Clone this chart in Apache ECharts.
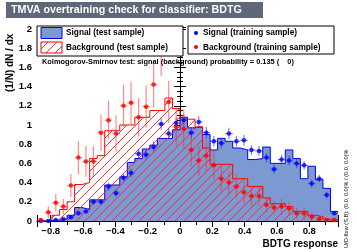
<!DOCTYPE html>
<html><head><meta charset="utf-8">
<script src="https://cdn.jsdelivr.net/npm/echarts@6/dist/echarts.min.js"></script>
<style>html,body{margin:0;padding:0;background:#fff}#c{width:357px;height:252px}</style>
</head><body><div id="c"></div>
<script>
const xRange = [-0.885, 0.978];
const nBins = 40;
const sigTest = [0.0,0.005,0.01,0.02,0.06,0.14,0.12,0.22,0.22,0.375,0.375,0.46,0.61,0.65,0.75,0.79,0.86,0.86,0.95,1.08,0.97,0.98,0.90,0.74,0.86,0.83,0.76,0.74,0.64,0.65,0.77,0.60,0.60,0.74,0.65,0.44,0.57,0.43,0.34,0.10];
const bkgTest = [0.0,0.02,0.06,0.12,0.20,0.38,0.40,0.65,0.68,0.94,0.94,1.0,1.0,1.08,1.08,1.15,1.15,1.28,1.17,1.06,1.06,0.98,0.76,0.59,0.59,0.59,0.44,0.44,0.36,0.36,0.24,0.18,0.18,0.15,0.10,0.10,0.06,0.045,0.02,0.01];
const sigTrain = [0.0,0.0,0.01,0.02,0.04,0.08,0.10,0.20,0.20,0.36,0.29,0.45,0.50,0.70,0.69,0.77,1.01,0.91,1.02,1.05,0.92,1.03,0.92,0.83,0.81,0.91,0.83,0.84,0.74,0.73,0.66,0.54,0.64,0.63,0.60,0.58,0.39,0.44,0.27,0.08];
const sigTrainErr = [0.0,0.0,0.01,0.01,0.015,0.02,0.02,0.03,0.03,0.04,0.035,0.04,0.045,0.05,0.05,0.055,0.06,0.06,0.06,0.06,0.06,0.06,0.06,0.055,0.055,0.06,0.055,0.055,0.05,0.05,0.05,0.045,0.05,0.05,0.05,0.045,0.04,0.04,0.035,0.02];
const bkgTrain = [0.01,0.09,0.19,0.15,0.37,0.66,0.62,0.62,0.92,1.05,0.91,1.20,1.23,1.08,1.19,1.42,1.78,1.24,0.98,0.96,0.74,0.63,0.68,0.58,0.44,0.40,0.36,0.30,0.26,0.26,0.17,0.14,0.15,0.13,0.08,0.08,0.045,0.02,0.01,0.01];
const bkgTrainErr = [0.02,0.06,0.09,0.08,0.12,0.17,0.16,0.16,0.19,0.2,0.19,0.22,0.22,0.2,0.22,0.24,0.27,0.22,0.2,0.2,0.17,0.16,0.16,0.15,0.13,0.12,0.12,0.11,0.1,0.1,0.08,0.07,0.08,0.07,0.06,0.06,0.04,0.03,0.02,0.02];

const bw = (xRange[1]-xRange[0])/nBins;
const edges = Array.from({length:nBins+1},(_,i)=>xRange[0]+i*bw);
const centers = edges.slice(0,nBins).map(e=>e+bw/2);
function stepData(vals){ const d = vals.map((v,i)=>[edges[i],v]); d.push([edges[nBins], vals[nBins-1]]); return d; }
function ptData(vals, errs){ return vals.map((v,i)=>[centers[i],v,errs[i]]); }

const hc = document.createElement('canvas'); hc.width=9; hc.height=9;
const g = hc.getContext('2d'); g.strokeStyle='#ff2020'; g.lineWidth=0.9;
g.beginPath(); g.moveTo(0,9); g.lineTo(9,0); g.moveTo(-1,1); g.lineTo(1,-1); g.moveTo(8,10); g.lineTo(10,8); g.stroke();
const hatch = {image: hc, repeat: 'repeat'};

function errSeries(vals, errs, color){
  return {type:'custom', z:5, clip:true, data: ptData(vals, errs),
    renderItem:(p, api)=>{
      const x=api.value(0), y=api.value(1), e=api.value(2);
      const c=api.coord([x,y]), t=api.coord([x,y+e]), b=api.coord([x,Math.max(0,y-e)]);
      const l=api.coord([x-bw/2,y]), r=api.coord([x+bw/2,y]);
      return {type:'group', children:[
        {type:'line', shape:{x1:c[0],y1:t[1],x2:c[0],y2:b[1]}, style:{stroke:color,lineWidth:1.2}},
        {type:'line', shape:{x1:l[0],y1:c[1],x2:r[0],y2:c[1]}, style:{stroke:color,lineWidth:1.2}}
      ]};
    }};
}

const font = 'Liberation Sans, Arial, Helvetica, sans-serif';
const chart = echarts.init(document.getElementById('c'), null, {renderer:'canvas'});
const axCommon = {axisLine:{show:true,lineStyle:{color:'#000',width:1}}, splitLine:{show:false}};
const xAx = (pos, labels)=>Object.assign({type:'value', position:pos, min:xRange[0], max:xRange[1], splitNumber:9,
  axisTick:{show:true,inside:true,length:6,lineStyle:{color:'#000'}},
  minorTick:{show:true,splitNumber:2,length:4,lineStyle:{color:'#000'}},
  axisLabel:{show:labels, showMinLabel:false, showMaxLabel:false, margin:5, color:'#000', fontFamily:font, fontWeight:'bold', fontSize:9.5,
    formatter:v=>String(Math.round(v*10)/10).replace('-', '\u2212')}}, axCommon);
const yAx = (pos, labels)=>Object.assign({type:'value', position:pos, min:0, max:2.02, interval:0.2,
  axisTick:{show:true,inside:true,length:6,lineStyle:{color:'#000'}},
  minorTick:{show:true,splitNumber:4,length:3,lineStyle:{color:'#000'}},
  axisLabel:{show:labels, showMaxLabel:false, margin:5, color:'#000', fontFamily:font, fontWeight:'bold', fontSize:9.5,
    formatter:v=>String(Math.round(v*10)/10)}}, axCommon);

const option = {
  animation:false,
  backgroundColor:'#fff',
  grid:{left:37, right:19, top:27, bottom:31},
  xAxis:[xAx('bottom',true), xAx('top',false)],
  yAxis:[yAx('left',true), yAx('right',false)],
  series:[
    {type:'line', step:'end', data:stepData(sigTest), symbol:'none', z:2,
      lineStyle:{color:'#0000ee',width:1}, areaStyle:{color:'#7d99d1',opacity:1}},
    {type:'line', step:'end', data:stepData(bkgTest), symbol:'none', z:3,
      lineStyle:{color:'#ff0000',width:1}, areaStyle:{color:hatch,opacity:1}},
    errSeries(sigTrain, sigTrainErr, 'rgba(40,40,255,0.6)'),
    errSeries(bkgTrain, bkgTrainErr, 'rgba(255,40,40,0.55)'),
    {type:'scatter', data:ptData(sigTrain,sigTrainErr), symbol:'circle', symbolSize:4.5, z:6, itemStyle:{color:'#0000ff'}},
    {type:'scatter', data:ptData(bkgTrain,bkgTrainErr), symbol:'circle', symbolSize:4.5, z:6, itemStyle:{color:'#ff0000'}}
  ],
  graphic:[
    {type:'rect', z:100, shape:{x:6,y:2,width:257,height:16}, style:{fill:'#5f6879'}},
    {type:'text', z:101, x:11, y:10, style:{text:'TMVA overtraining check for classifier: BDTG', fill:'#fff', font:'bold 10.7px '+font, textVerticalAlign:'middle'}},
    {type:'rect', z:100, shape:{x:37,y:26,width:146,height:30}, style:{fill:'#fff', stroke:'#000', lineWidth:1}},
    {type:'rect', z:101, shape:{x:41,y:27.5,width:21,height:11}, style:{fill:'#7d99d1', stroke:'#0000ee', lineWidth:1}},
    {type:'text', z:101, x:66, y:33, style:{text:'Signal (test sample)', fill:'#000', font:'bold 8.3px '+font, textVerticalAlign:'middle'}},
    {type:'rect', z:101, shape:{x:41,y:42,width:21,height:11}, style:{fill:hatch, stroke:'#ff0000', lineWidth:1}},
    {type:'text', z:101, x:66, y:47.5, style:{text:'Background (test sample)', fill:'#000', font:'bold 8.3px '+font, textVerticalAlign:'middle'}},
    {type:'rect', z:100, shape:{x:188,y:26,width:146,height:28}, style:{fill:'#fff', stroke:'#000', lineWidth:1}},
    {type:'circle', z:101, shape:{cx:196,cy:33,r:2}, style:{fill:'#0000ff'}},
    {type:'text', z:101, x:203, y:33, style:{text:'Signal (training sample)', fill:'#000', font:'bold 8.3px '+font, textVerticalAlign:'middle'}},
    {type:'circle', z:101, shape:{cx:196,cy:47,r:2}, style:{fill:'#ff0000'}},
    {type:'text', z:101, x:203, y:47.5, style:{text:'Background (training sample)', fill:'#000', font:'bold 8.3px '+font, textVerticalAlign:'middle'}},
    {type:'text', z:101, x:42, y:62, style:{text:'Kolmogorov-Smirnov test: signal (background) probability = 0.135 (    0)', fill:'#000', font:'bold 7.4px '+font, textVerticalAlign:'middle'}},
    {type:'text', z:101, x:10, y:92, rotation:Math.PI/2, style:{text:'(1/N) dN / dx', fill:'#000', font:'bold 10px '+font, textAlign:'left', textVerticalAlign:'middle'}},
    {type:'text', z:101, x:338, y:244, style:{text:'BDTG response', fill:'#000', font:'bold 10px '+font, textAlign:'right', textVerticalAlign:'middle'}},
    {type:'text', z:101, x:346, y:248, rotation:Math.PI/2, style:{text:'U/O-flow (S,B): (0.0, 0.0)% / (0.0, 0.0)%', fill:'#000', font:'5.6px '+font, textAlign:'left', textVerticalAlign:'middle'}}
  ]
};
chart.setOption(option);
</script></body></html>
